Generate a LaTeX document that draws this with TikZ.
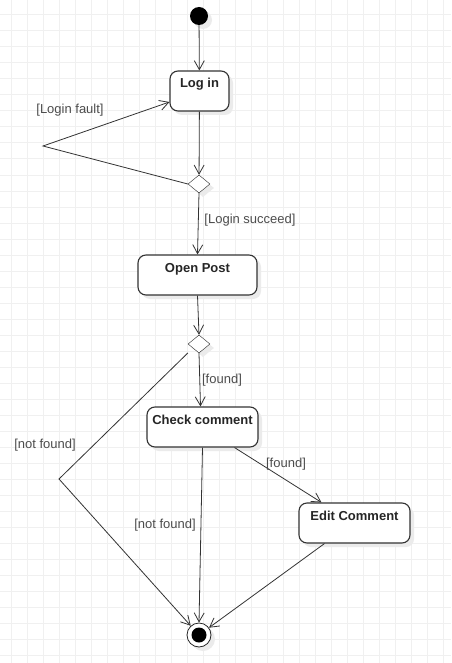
\documentclass[tikz,border=0pt]{standalone}
\usepackage{fontspec}
\setmainfont{Liberation Sans}
\usetikzlibrary{arrows.meta,shapes.geometric}
\newcommand{\gridstep}{16}

\tikzset{
	act/.style={draw=black!80, line width=1.1pt, rounded corners=8pt, fill=white, minimum width=#1, minimum height=40pt, inner ysep=4pt, text height=13pt, text depth=19pt, font=\fontsize{13}{15}\selectfont\bfseries, text=black!85},
	castshadow/.style={preaction={fill=black!8, transform canvas={shift={(4pt,-4pt)}}}},
	decision/.style={diamond, draw=black!85, fill=white, minimum width=22pt, minimum height=18pt, inner sep=0pt},
	flow/.style={draw=black!80, line width=.8pt, -{Straight Barb[length=9pt,width=10pt]}},
	guard/.style={font=\fontsize{13}{15}\selectfont, text=black!70, inner sep=0pt},
	gridline/.style={draw=black!6, line width=1pt}
}

\begin{document}
\begin{tikzpicture}[x=1pt, y=-1pt]
	
	\fill[white] (0,0) rectangle (451,663);
	\useasboundingbox (0,0) rectangle (451,663);
	
	% grid
	\foreach \x in {11,27,...,443}
	{
		\draw[gridline] (\x,0) -- (\x,663);
	}
	\foreach \y in {15,31,...,655}
	{
		\draw[gridline] (0,\y) -- (451,\y);
	}
	
	% states
	\node[circle, fill=black, minimum size=18pt, inner sep=0pt, castshadow] (start) at (199,16) {};
	\node[act=59pt, castshadow] (login) at (199.5,91) {Log in};
	\node[decision, castshadow] (dec1) at (199,184) {};
	\node[act=119pt, castshadow] (openpost) at (197.5,275) {Open Post};
	\node[decision, castshadow] (dec2) at (199,344) {};
	\node[act=111pt, castshadow] (check) at (202.5,427) {Check comment};
	\node[act=111pt, castshadow] (edit) at (354.5,523) {Edit Comment};
	\node[circle, draw=black!85, line width=.8pt, fill=white, minimum size=24pt, inner sep=0pt, castshadow,
		path picture={\fill[black] (path picture bounding box.center) circle (7.5pt);}] (end) at (199,635) {};
	
	\coordinate (faultbend) at (43,146);
	\coordinate (nfbend) at (59,479);
	
	% transitions
	\draw[flow] (start) -- (login);
	\draw[flow] (login) -- (dec1);
	\draw[flow] (dec1.west) -- (faultbend) -- ([yshift=-11pt]login.west);
	\draw[flow] (dec1.south) -- (openpost.north);
	\draw[flow] (openpost.south) -- (dec2.north);
	\draw[flow] (dec2.south) -- ([xshift=-2pt]check.north);
	\draw[flow] ([yshift=-9pt]dec2.west) -- (nfbend) -- (end);
	\draw[flow] (check.south) -- (end.north);
	\draw[flow] ([xshift=32pt]check.south) -- ([xshift=-33pt]edit.north);
	\draw[flow] ([xshift=-30pt]edit.south) -- (end);
	
	% guards
	\node[guard] (gfault) at (70,110) {[Login fault]};
	\node[guard] (gsucceed) at (250,220) {[Login succeed]};
	\node[guard] (gfound) at (222,380) {[found]};
	\node[guard] (gnotfound) at (45,445) {[not found]};
	\node[guard] (gnocomment) at (165,525) {[not found]};
	\node[guard] (gedit) at (286,464) {[found]};

\end{tikzpicture}
\end{document}
